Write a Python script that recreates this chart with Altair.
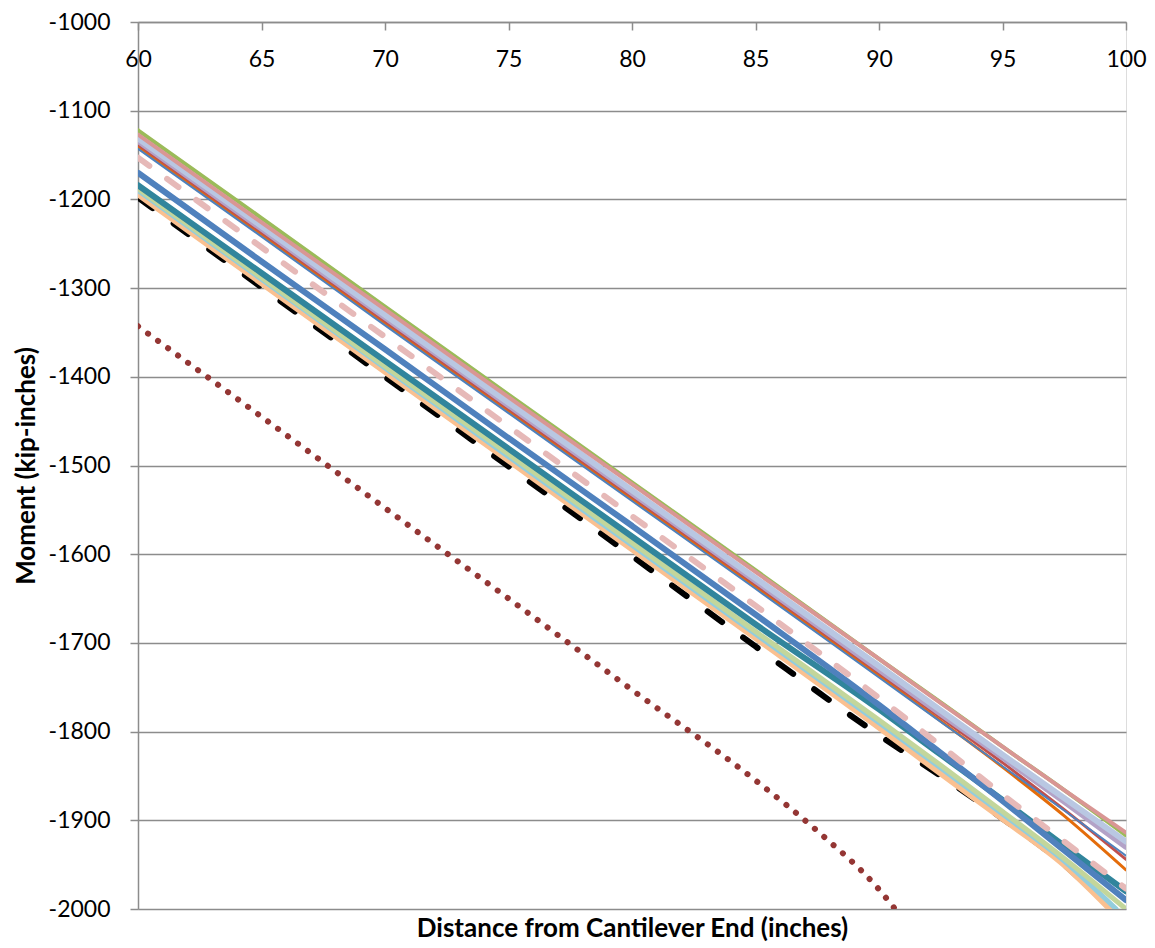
import altair as alt
import pandas as pd

# ---- data (distance in inches, moment in kip-inches) ----
X_STD = [60, 65, 70, 75, 80, 85, 90, 92.5, 95, 97.5, 100]

green_top = [-1122, -1221, -1321, -1420, -1519, -1618, -1718, -1767, -1817, -1866, -1917]
mauve = [-1127, -1226, -1324, -1423, -1521, -1620, -1718, -1768, -1817, -1866, -1914]
lavender = [-1134, -1233, -1333, -1432, -1531, -1630, -1730, -1780, -1829, -1879, -1930]
steelblue = [-1131, -1230, -1330, -1429, -1528, -1627, -1726, -1776, -1826, -1875, -1924]
red = [-1138, -1237, -1337, -1436, -1535, -1634, -1734, -1784, -1835, -1888, -1944]
orange = [-1141, -1240, -1340, -1439, -1538, -1637, -1737, -1788, -1840, -1895, -1956]
thinblue = [-1143, -1242, -1342, -1441, -1540, -1639, -1739, -1789, -1839, -1889, -1940]
pink_dash = [-1153, -1254, -1355, -1456, -1557, -1658, -1762, -1816, -1871, -1924, -1977]
blue = [-1170, -1270, -1369, -1469, -1568, -1668, -1770, -1824, -1878, -1934, -1990]
teal = [-1184, -1283, -1382, -1481, -1580, -1679, -1775, -1826, -1877, -1929, -1980]

X_LGREEN = [60, 65, 70, 75, 80, 85, 90, 92.5, 95, 97.5, 100]
lgreen = [-1188, -1288, -1388, -1487, -1587, -1687, -1787, -1838, -1890, -1943, -2000]
X_LBLUE = [60, 65, 70, 75, 80, 85, 90, 92.5, 95, 97.5, 99.6]
lblue = [-1190, -1290, -1390, -1490, -1590, -1690, -1790, -1841, -1893, -1946, -2000]
X_PEACH = [60, 65, 70, 75, 80, 85, 90, 92.5, 95, 97.5, 99.4]
peach = [-1193, -1293, -1393, -1493, -1593, -1693, -1794, -1846, -1897, -1949, -2000]
X_BLACK = [60, 65, 70, 75, 80, 85, 90, 92.5, 95, 97.5, 99.4]
black_dash = [-1198, -1299, -1400, -1501, -1602, -1704, -1804, -1850, -1898, -1950, -2000]
X_DOT = [60, 65, 70, 75, 80, 85, 87.5, 90, 90.65]
dotted = [-1343, -1445, -1548, -1650, -1753, -1855, -1912, -1978, -2000]

X_TICKS = [60, 65, 70, 75, 80, 85, 90, 95, 100]
Y_TICKS = [-1000, -1100, -1200, -1300, -1400, -1500, -1600, -1700, -1800, -1900, -2000]

W, H = 988, 887
FONT = "Lato"
GRID = "#8c8c8c"

# (name, xs, ys, color, width, dash) in drawing order (first = bottom)
series = [
    ("dotted", X_DOT, dotted, "#943634", 6, [0.1, 12.3]),
    ("black", X_BLACK, black_dash, "#000000", 6, [18, 26]),
    ("peach", X_PEACH, peach, "#FAC090", 8, None),
    ("lblue", X_LBLUE, lblue, "#93CDDD", 5, None),
    ("lgreen", X_LGREEN, lgreen, "#C3D69B", 5, None),
    ("teal", X_STD, teal, "#31859C", 6, None),
    ("blue", X_STD, blue, "#4F81BD", 6, None),
    ("orange", X_STD, orange, "#E46C0A", 3, None),
    ("red", X_STD, red, "#C0504D", 3, None),
    ("thinblue", X_STD, thinblue, "#4F81BD", 2, None),
    ("lavender", X_STD, lavender, "#B3A2C7", 6, None),
    ("steelblue", X_STD, steelblue, "#B9C7E2", 6, None),
    ("green", X_STD, green_top, "#9BBB59", 4, None),
    ("mauve", X_STD, mauve, "#D99694", 4, None),
    ("pinkdash", X_STD, pink_dash, "#E6B9B8", 6, [14, 22]),
]

x_axis = alt.Axis(
    orient="bottom", offset=-H, values=X_TICKS, grid=False,
    domainColor=GRID, domainWidth=1.5, tickColor=GRID, tickWidth=1.5, tickSize=8,
    labelFont=FONT, labelFontSize=23, labelColor="black", labelPadding=18,
    labelFlush=False, labelOverlap=False,
    title="Distance from Cantilever End (inches)", titleFont=FONT, titleFontSize=26,
    titleFontWeight="bold", titleColor="black", titleY=906, titleX=W / 2,
    titleBaseline="middle", titleAlign="center",
)
y_axis = alt.Axis(
    orient="left", values=Y_TICKS, grid=True, gridColor=GRID, gridWidth=1.5,
    domainColor=GRID, domainWidth=1.5, tickColor=GRID, tickWidth=1.5, tickSize=8,
    labelFont=FONT, labelFontSize=23, labelColor="black", labelPadding=20,
    labelOverlap=False, labelFlush=False,
    labelExpr="datum.value < 0 ? '-' + format(-datum.value, 'd') : format(datum.value, 'd')",
    title="Moment (kip-inches)", titleFont=FONT, titleFontSize=26,
    titleFontWeight="bold", titleColor="black", titleX=-112, titleY=H / 2,
    titleAngle=270, titleBaseline="middle", titleAlign="center",
)
xs = alt.Scale(domain=[60, 100], nice=False, zero=False)
ys = alt.Scale(domain=[-2000, -1000], nice=False, zero=False)

layers = []
for name, xv, yv, color, width, dash in series:
    df = pd.DataFrame({"x": xv, "v": yv})
    kw = dict(color=color, strokeWidth=width, strokeCap="round", interpolate="monotone", clip=True)
    if dash is not None:
        kw["strokeDash"] = dash
    layers.append(
        alt.Chart(df).mark_line(**kw).encode(
            x=alt.X("x:Q", scale=xs, axis=x_axis),
            y=alt.Y("v:Q", scale=ys, axis=y_axis),
        )
    )

chart = alt.layer(*layers).properties(
    width=W, height=H,
    autosize=alt.AutoSizeParams(type="none"),
    padding={"left": 130, "top": 14, "right": 21, "bottom": 38},
).configure_view(stroke=None).configure(background="white")

chart.save("out.html", embed_options={"renderer": "svg", "actions": False})
